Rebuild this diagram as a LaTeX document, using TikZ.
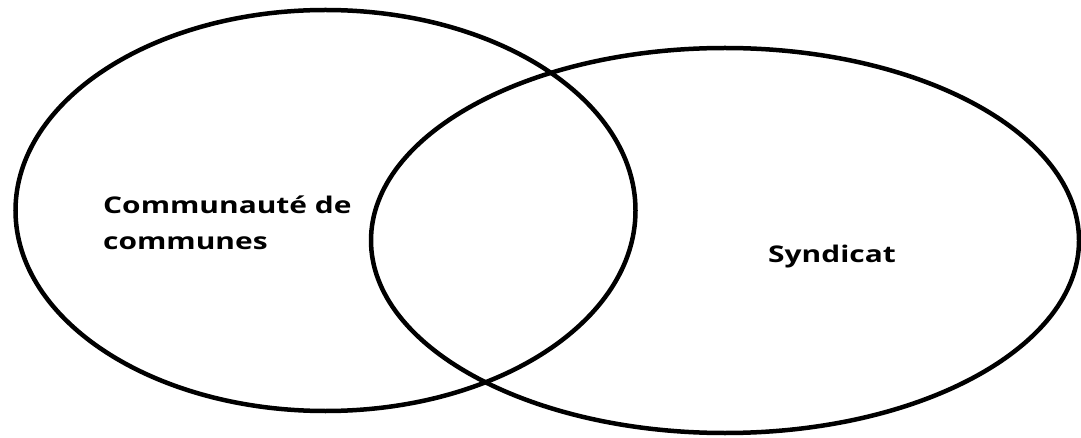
\documentclass[tikz,border=0pt]{standalone}
\usepackage{fontspec}
\setmainfont{Open Sans}
\newcommand{\wide}[1]{\scalebox{1.3}[1]{#1}}
\begin{document}
\begin{tikzpicture}[x=1pt,y=-1pt,
  setline/.style={draw=black,line width=4.5pt},
  label/.style={font=\fontsize{23}{36}\selectfont\bfseries,inner sep=0pt,align=left}]
\useasboundingbox (0,0) rectangle (1081,438);
\fill[white] (0,0) rectangle (1081,438);
\draw[setline] (325.5,210.5) ellipse [x radius=310, y radius=200.5];
\draw[setline] (725,240.5) ellipse [x radius=354, y radius=192.5];
\node[label,anchor=base west] (cc) at (103,250) {\wide{Communauté de}\\\wide{communes}};
\node[label,anchor=base west] (syn) at (768,262) {\wide{Syndicat}};
\end{tikzpicture}
\end{document}
